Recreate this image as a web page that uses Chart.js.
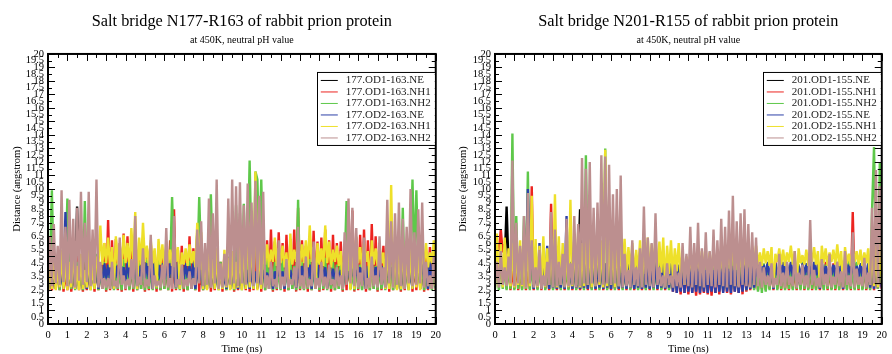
<!DOCTYPE html>
<html>
<head>
<meta charset="utf-8">
<script src="https://cdn.jsdelivr.net/npm/chart.js@4.4.1/dist/chart.umd.min.js"></script>
<style>
  html, body { margin: 0; padding: 0; background: #fff; overflow: hidden; width: 892px; height: 354px; }
  .panel { position: absolute; top: 0; width: 446px; height: 360px; }
</style>
</head>
<body>
<div class="panel" style="left:0"><canvas id="c177" width="446" height="360"></canvas></div>
<div class="panel" style="left:446px"><canvas id="c201" width="446" height="360"></canvas></div>
<script>
// Sampling times of the trajectory (ns), one frame every 0.1 ns
const timeNs = Array.from({ length: 201 }, (_, i) => i / 10);

const xTicks = [0,1,2,3,4,5,6,7,8,9,10,11,12,13,14,15,16,17,18,19,20];
const yTicks = [0,0.5,1,1.5,2,2.5,3,3.5,4,4.5,5,5.5,6,6.5,7,7.5,8,8.5,9,9.5,10,
                10.5,11,11.5,12,12.5,13,13.5,14,14.5,15,15.5,16,16.5,17,17.5,18,18.5,19,19.5,20];

const seriesN177 = ['177.OD1-163.NE','177.OD1-163.NH1','177.OD1-163.NH2','177.OD2-163.NE','177.OD2-163.NH1','177.OD2-163.NH2'];
const seriesN201 = ['201.OD1-155.NE','201.OD1-155.NH1','201.OD1-155.NH2','201.OD2-155.NE','201.OD2-155.NH1','201.OD2-155.NH2'];
const seriesColors = ['#000000','#ec2420','#5ec84a','#2c40a8','#eee02a','#bc8f8f'];

// ---- N177-R163 distances (angstrom) ----
const n177_od1_ne = [
 2.9,4.0,2.8,4.3,3.0,3.8,2.9,4.4,2.8,4.1,
 3.0,4.2,2.9,3.9,2.8,8.7,3.0,4.5,2.9,4.0,
 2.8,4.3,3.0,4.1,2.9,3.8,2.8,4.4,3.0,4.0,
 2.9,4.2,2.8,4.5,3.0,3.9,2.9,4.3,2.8,4.1,
 3.0,4.4,2.9,4.0,2.8,4.2,3.0,4.5,2.9,3.9,
 2.8,4.3,3.0,4.1,2.9,4.4,2.8,4.0,3.0,4.2,
 2.9,3.9,2.8,4.5,3.0,4.2,2.9,4.0,2.8,4.3,
 3.0,4.1,2.9,4.4,2.8,4.0,3.0,6.8,2.9,4.2,
 2.8,4.5,3.0,4.1,2.9,4.3,2.8,3.9,3.0,4.4,
 2.9,4.0,2.8,4.2,3.0,4.5,2.9,4.1,2.8,4.3,
 3.0,4.4,2.9,4.0,2.8,4.6,3.0,4.8,2.9,4.5,
 2.8,4.3,3.0,4.6,2.9,4.5,2.8,4.4,3.0,4.6,
 2.9,4.5,2.8,4.4,3.0,4.6,2.9,4.3,2.8,4.5,
 3.0,4.2,2.9,4.0,2.8,4.4,3.0,4.1,2.9,4.3,
 2.8,4.5,3.0,4.3,2.9,4.6,2.8,4.4,3.0,4.5,
 2.9,4.6,2.8,4.4,3.0,4.2,2.9,4.0,2.8,4.3,
 3.0,4.1,2.9,4.5,2.8,4.6,3.0,4.4,2.9,4.2,
 2.8,4.0,3.0,4.3,2.9,4.1,2.8,4.4,3.0,4.0,
 2.9,4.2,2.8,3.9,3.0,4.3,2.9,4.1,2.8,4.0,
 3.0,4.4,2.9,4.2,2.8,4.0,3.0,4.3,2.9,4.1,
 3.0];
const n177_od1_nh1 = [
 2.4,3.8,2.5,3.5,2.6,4.2,2.5,5.0,2.4,3.9,
 2.5,4.5,2.4,3.8,2.6,5.2,2.5,4.0,2.4,4.6,
 2.5,3.9,2.6,4.4,2.4,5.1,2.5,4.3,2.6,6.0,
 2.4,7.7,2.5,6.2,2.6,6.3,2.5,6.0,2.4,6.7,
 2.5,6.5,2.6,5.8,2.4,6.1,2.5,5.5,2.6,5.9,
 2.4,5.6,2.5,6.0,2.6,5.3,2.4,5.8,2.5,5.4,
 2.6,5.7,2.5,6.2,2.4,8.5,2.5,5.5,2.6,5.8,
 2.4,5.3,2.5,6.5,2.6,5.6,2.5,6.0,2.4,5.4,
 2.5,5.0,2.6,5.5,2.4,4.8,2.5,5.2,2.6,4.6,
 2.4,5.1,2.5,4.7,2.6,5.3,2.4,4.9,2.5,5.0,
 2.6,5.4,2.5,6.0,2.4,5.2,2.5,6.3,2.6,5.6,
 2.4,6.5,2.5,6.2,2.6,7.0,2.4,6.1,2.5,6.8,
 2.6,6.0,2.4,6.6,2.5,6.3,2.6,7.0,2.4,8.6,
 2.5,6.2,2.6,5.8,2.4,6.5,2.5,6.9,2.6,6.1,
 2.4,6.4,2.5,7.0,2.6,6.2,2.4,6.6,2.5,6.0,
 2.6,6.1,2.4,5.9,2.5,6.3,2.6,8.4,2.4,6.4,
 2.5,6.6,2.6,7.0,2.4,6.2,2.5,7.4,2.6,6.5,
 2.4,6.0,2.5,5.8,2.6,6.2,2.4,5.9,2.5,5.6,
 2.6,5.3,2.4,5.8,2.5,5.1,2.6,5.5,2.4,5.0,
 2.5,5.4,2.6,5.9,2.4,5.2,2.5,5.7,2.6,5.3,
 2.5];
const n177_od1_nh2 = [
 2.5,4.0,9.9,3.5,2.6,4.8,2.5,4.1,2.6,4.5,
 9.3,4.2,2.6,5.0,2.5,4.6,2.6,4.3,2.5,9.1,
 2.6,4.7,2.5,4.4,2.6,5.2,2.5,4.0,2.6,4.6,
 2.5,4.3,2.6,4.9,2.5,4.5,2.6,4.2,2.5,4.8,
 2.6,4.4,2.5,4.7,2.6,4.1,2.5,4.6,2.6,4.3,
 2.5,4.8,2.6,4.2,2.5,4.5,2.6,4.9,2.5,4.4,
 2.6,4.6,2.5,4.3,9.4,4.8,2.6,4.1,2.5,4.5,
 2.6,4.2,2.5,4.7,2.6,4.4,2.5,4.0,9.4,4.6,
 2.5,4.3,2.6,4.8,9.6,4.5,2.6,4.1,2.5,4.6,
 2.6,4.4,2.5,5.0,2.6,4.7,2.5,8.8,2.6,8.2,
 2.5,8.9,2.6,5.1,12.1,4.7,2.6,11.3,10.7,4.9,
 10.7,4.5,2.5,4.8,2.6,4.3,2.5,4.6,2.6,4.2,
 2.5,4.7,2.6,4.4,2.5,4.9,2.6,4.3,2.5,9.2,
 2.6,4.6,2.5,4.2,2.6,4.8,2.5,4.4,2.6,4.7,
 2.5,4.3,2.6,4.9,2.5,4.1,2.6,4.6,2.5,4.4,
 2.6,4.8,2.5,4.3,9.1,4.7,2.6,4.2,2.5,4.6,
 2.6,4.4,2.5,4.9,2.6,4.2,2.5,4.7,2.6,4.3,
 2.5,4.6,2.6,4.1,2.5,4.8,2.6,4.4,2.5,4.2,
 2.6,4.7,2.5,8.6,2.6,4.3,2.5,4.9,10.7,4.5,
 9.9,4.4,2.6,4.8,2.5,4.2,2.6,4.6,2.5,4.3,
 2.6];
const n177_od2_ne = [
 2.7,4.2,2.6,3.9,2.8,4.4,2.7,4.0,2.6,8.3,
 2.8,4.1,2.7,4.3,2.6,3.8,2.8,4.5,2.7,4.0,
 2.6,4.4,2.8,4.2,2.7,4.6,2.6,4.3,2.8,4.5,
 3.3,4.4,3.2,4.6,2.6,4.3,3.4,4.5,3.3,4.2,
 3.2,4.6,3.4,4.4,3.3,4.5,2.7,4.3,3.2,4.6,
 3.4,4.5,3.3,4.3,2.6,4.6,3.2,4.4,3.3,4.5,
 3.3,4.3,3.2,4.5,3.4,4.2,2.7,4.6,3.3,4.4,
 3.2,4.5,3.4,4.3,3.3,4.6,2.6,4.2,3.2,4.0,
 2.6,4.1,2.8,3.9,2.7,4.3,2.6,4.0,2.8,4.2,
 2.7,3.8,2.6,4.1,2.8,3.9,2.7,4.2,2.6,4.0,
 2.8,4.3,2.7,4.0,2.6,4.2,2.8,3.9,2.7,4.1,
 2.6,4.0,3.3,3.8,3.2,4.1,2.6,3.9,3.4,4.0,
 3.3,3.9,2.6,4.2,3.2,4.0,3.3,3.8,2.7,4.1,
 3.3,4.3,3.2,4.5,3.4,4.4,2.6,4.6,3.3,4.5,
 3.2,4.4,3.4,4.2,2.7,4.0,3.3,4.1,3.2,3.9,
 3.4,4.0,2.6,4.2,3.3,3.9,3.2,4.1,3.4,4.0,
 3.3,4.2,3.2,4.0,2.6,4.3,3.4,4.1,3.3,4.2,
 3.2,4.0,3.4,4.3,2.7,4.1,3.3,4.2,3.2,4.4,
 2.7,4.5,2.6,4.3,2.8,4.6,2.7,4.2,2.6,4.4,
 3.3,4.6,3.2,4.5,3.4,4.4,2.6,4.6,3.3,4.5,
 2.7];
const n177_od2_nh1 = [
 2.5,4.4,2.6,4.8,2.5,4.2,2.7,5.5,2.6,5.0,
 2.5,4.6,2.7,5.8,2.6,4.3,2.5,5.2,2.6,4.0,
 2.7,5.5,2.5,4.6,2.6,5.0,4.3,7.3,4.4,6.0,
 4.5,6.4,4.2,5.7,2.6,6.5,4.4,5.8,4.3,6.6,
 4.5,6.0,4.2,7.1,4.6,8.3,2.6,6.4,4.4,7.5,
 4.6,5.8,4.3,6.2,4.5,5.6,2.7,6.3,4.4,5.9,
 4.2,6.1,4.5,5.5,4.3,6.4,4.6,5.7,2.6,5.3,
 4.4,5.6,4.3,5.9,4.5,5.4,4.2,7.5,4.6,6.8,
 2.6,5.2,2.5,6.3,2.7,4.8,2.6,5.6,2.5,4.4,
 2.6,5.5,2.7,4.9,2.5,5.4,2.6,4.6,2.7,5.8,
 2.5,6.6,2.6,8.0,2.7,7.2,2.6,11.3,2.5,6.3,
 2.6,5.4,4.4,5.9,4.2,5.5,4.6,6.4,4.3,5.6,
 4.5,5.8,4.2,5.3,2.7,6.7,4.4,5.5,4.6,6.1,
 4.3,5.9,4.5,6.2,4.2,7.3,4.6,5.7,2.6,6.0,
 4.4,5.6,4.3,7.3,4.5,6.1,4.2,5.5,4.6,5.8,
 4.3,5.4,2.6,5.9,4.4,6.0,2.5,7.4,2.6,6.5,
 4.5,5.7,4.2,6.0,4.6,5.4,2.7,6.2,4.4,5.6,
 4.3,5.9,4.5,5.3,2.6,6.4,2.6,10.3,2.7,6.1,
 2.5,5.7,2.6,6.2,2.7,5.4,2.5,6.0,2.6,5.2,
 2.7,5.8,2.5,5.5,4.4,6.0,4.2,5.3,4.5,6.2,
 2.8];
const n177_od2_nh2 = [
 2.7,6.5,2.8,7.4,3.0,5.8,2.9,9.9,3.1,7.2,
 2.8,9.2,3.0,7.8,2.7,8.6,3.2,9.8,2.9,7.5,
 3.1,9.8,2.8,7.0,3.0,10.7,2.7,4.6,2.6,3.4,
 2.7,3.4,2.6,4.6,2.8,3.2,2.7,6.4,2.9,3.6,
 2.6,3.3,2.8,4.8,2.7,8.0,2.8,3.5,2.9,5.6,
 2.7,3.3,2.8,6.6,2.6,3.6,2.8,3.2,2.7,4.4,
 2.8,7.1,2.7,3.4,2.6,8.0,2.7,3.3,2.9,4.4,
 2.7,3.3,2.8,3.9,2.6,3.4,2.9,7.0,3.0,7.6,
 2.8,6.0,2.9,9.3,2.7,8.2,3.0,10.7,2.6,4.5,
 2.7,5.2,2.8,9.3,2.9,10.7,3.0,10.2,2.8,10.5,
 3.0,8.8,2.9,10.4,3.1,9.0,2.8,10.6,3.0,9.5,
 2.9,9.8,2.7,3.6,2.6,4.6,2.8,3.3,2.7,6.2,
 2.6,3.5,2.8,4.8,2.7,3.3,2.9,4.2,2.7,7.2,
 2.8,3.6,2.6,5.0,2.7,3.3,2.8,6.1,2.6,3.4,
 2.7,4.6,2.8,3.5,2.6,4.4,2.9,3.3,2.7,4.2,
 2.8,3.6,2.6,6.8,2.9,9.3,3.0,8.6,2.8,7.1,
 2.7,3.8,2.8,6.4,2.6,3.4,2.7,5.0,2.8,3.6,
 2.7,6.5,2.9,4.2,2.7,9.2,3.0,7.6,2.7,8.2,
 2.9,9.0,2.8,7.8,2.6,7.2,3.0,10.0,2.8,6.8,
 2.9,8.5,3.0,9.0,2.7,4.6,2.8,3.6,2.6,5.0,
 3.0];

// ---- N201-R155 distances (angstrom) ----
const n201_od1_ne = [
 3.5,4.4,3.6,4.2,3.4,4.5,8.7,4.3,3.5,4.0,
 3.4,4.2,3.6,4.1,3.5,4.4,3.3,4.0,3.6,4.3,
 3.0,4.1,2.9,4.3,3.0,4.0,2.9,4.2,3.0,4.4,
 2.9,4.2,3.0,4.0,2.9,4.3,3.0,4.1,2.9,4.4,
 3.0,4.3,2.9,4.1,8.5,4.2,3.0,4.4,2.9,4.0,
 3.0,4.2,2.9,4.4,3.0,4.1,2.9,4.3,3.0,4.0,
 2.9,4.4,3.0,4.2,2.9,4.0,3.0,4.3,2.9,4.1,
 3.0,4.0,2.9,4.3,3.0,4.2,2.9,4.4,3.0,4.1,
 2.9,4.3,3.0,4.1,2.9,4.4,3.0,4.0,2.9,4.2,
 3.0,4.2,2.9,4.0,3.0,4.3,2.9,4.1,3.0,4.4,
 2.9,4.1,3.0,4.3,3.4,4.0,3.5,4.2,3.4,4.1,
 3.4,4.0,3.5,4.1,3.4,4.3,3.5,4.0,3.4,4.2,
 3.5,4.1,3.4,3.9,3.5,4.2,3.4,4.0,3.5,4.1,
 3.0,4.2,2.9,4.0,3.0,4.3,2.9,4.1,3.0,4.2,
 2.9,4.0,3.0,4.3,2.9,4.1,3.0,4.2,2.9,4.4,
 3.0,4.1,2.9,4.3,3.0,4.0,2.9,4.2,3.0,4.1,
 2.9,4.3,3.0,4.1,2.9,4.4,3.0,4.0,2.9,4.2,
 3.0,4.2,2.9,4.0,3.0,4.3,2.9,4.1,3.0,4.4,
 2.9,4.1,3.0,4.3,2.9,4.0,3.0,4.2,2.9,4.1,
 3.0,4.3,2.9,4.1,3.0,4.2,2.9,4.0,3.0,4.3,
 3.0];
const n201_od1_nh1 = [
 5.2,6.0,5.4,7.0,5.3,5.9,2.6,4.8,2.5,4.2,
 2.6,4.5,2.5,4.0,2.6,4.7,2.5,4.3,2.6,10.2,
 2.5,4.4,2.6,4.9,2.5,4.6,2.6,4.2,2.5,8.9,
 2.6,4.8,2.5,4.4,2.6,4.7,2.5,4.5,2.6,4.3,
 2.5,4.6,2.6,4.9,2.5,4.4,2.6,4.8,2.5,4.5,
 2.6,4.7,2.5,4.3,2.6,4.8,2.5,4.5,2.6,4.4,
 2.5,4.6,2.6,4.2,2.5,4.7,2.6,4.4,2.5,4.8,
 2.6,4.3,2.5,4.6,2.6,4.5,2.5,4.2,2.6,4.7,
 2.5,4.4,2.6,4.8,2.5,4.3,2.6,4.6,2.5,4.5,
 2.6,4.2,2.4,4.5,2.3,4.0,2.2,4.3,2.3,3.9,
 2.2,4.1,2.3,3.8,2.1,4.2,2.2,3.9,2.3,4.0,
 2.2,3.8,2.1,4.1,2.3,4.0,2.2,4.2,2.4,3.9,
 2.3,4.1,2.2,4.3,2.4,4.0,2.3,4.2,2.2,4.4,
 2.4,4.0,2.5,4.3,2.6,4.1,2.5,4.2,2.6,4.4,
 2.5,4.5,2.6,4.2,2.5,4.6,2.6,4.3,2.5,4.4,
 2.6,4.2,2.5,4.5,2.6,4.1,2.5,4.4,2.6,4.6,
 2.5,4.3,2.6,4.7,2.5,4.2,2.6,4.5,2.5,4.4,
 2.6,4.6,2.5,4.2,2.6,4.5,2.5,4.3,2.6,4.7,
 2.5,4.4,2.6,4.8,2.5,8.3,2.6,4.5,2.5,4.3,
 2.6,4.6,2.5,4.2,2.6,4.5,2.5,4.7,2.6,4.4,
 2.6];
const n201_od1_nh2 = [
 2.6,4.5,2.5,4.8,2.6,4.3,2.5,4.6,2.6,14.1,
 2.5,8.0,2.6,4.7,2.5,8.0,2.6,11.3,2.5,4.5,
 2.6,4.8,2.5,4.4,2.6,4.9,2.5,4.3,2.6,4.7,
 2.5,4.5,2.6,4.8,2.5,4.2,2.6,4.6,2.5,4.4,
 2.6,4.9,2.5,4.3,2.6,4.7,2.5,12.5,2.6,4.6,
 2.5,4.4,2.6,4.8,2.5,4.5,2.6,13.0,2.5,4.3,
 2.6,4.7,2.5,4.4,2.6,4.9,2.5,4.2,2.6,4.6,
 2.5,4.3,2.6,4.8,2.5,4.5,2.6,4.4,2.5,4.7,
 2.6,4.5,2.5,4.2,2.6,4.6,2.5,4.3,2.6,4.8,
 2.5,4.4,2.6,4.7,2.5,4.3,2.6,4.5,2.5,4.2,
 2.6,4.6,2.5,4.3,2.6,4.8,2.5,4.4,2.6,4.5,
 2.5,4.7,2.6,4.2,2.5,4.5,2.6,4.3,2.5,4.6,
 2.6,4.4,2.5,4.8,2.6,4.3,2.5,7.0,2.6,4.5,
 2.5,4.6,2.6,4.2,2.5,4.7,2.4,4.4,2.3,4.5,
 2.4,4.3,2.5,4.6,2.6,4.4,2.5,4.7,2.6,4.2,
 2.5,4.5,2.6,4.3,2.5,4.8,2.6,4.4,2.5,4.6,
 2.6,4.2,2.5,4.7,2.6,4.5,2.5,4.3,2.6,4.8,
 2.5,4.4,2.6,4.6,2.5,4.2,2.6,4.5,2.5,4.7,
 2.6,4.3,2.5,4.8,2.6,4.4,2.5,4.6,2.6,4.3,
 2.5,4.7,2.6,4.5,2.5,8.5,13.1,4.9,2.6,12.0,
 4.5];
const n201_od2_ne = [
 3.8,4.8,3.7,5.0,3.9,4.6,3.8,4.9,3.7,4.5,
 3.8,6.0,3.6,4.7,3.9,5.2,3.7,10.0,3.8,4.6,
 2.6,4.5,2.7,6.0,2.6,4.4,2.7,5.8,2.6,4.6,
 2.7,4.3,2.6,4.5,2.7,4.4,2.6,8.0,2.7,4.6,
 2.6,4.5,2.7,4.3,2.6,4.6,2.7,4.4,2.6,4.5,
 2.7,4.4,2.6,4.6,2.7,4.3,2.6,4.5,2.7,4.4,
 2.6,4.6,2.7,4.4,2.6,4.5,2.7,4.3,2.6,4.6,
 2.7,4.3,2.6,4.5,2.7,4.4,2.6,4.6,2.7,4.5,
 2.6,4.4,2.7,4.6,2.6,4.3,2.7,4.5,2.6,4.4,
 2.7,4.5,2.4,4.3,2.3,4.4,2.4,4.2,2.3,4.5,
 2.4,4.3,2.3,4.1,2.4,4.4,2.3,4.2,2.4,4.0,
 2.3,4.2,2.4,4.0,2.3,4.3,2.4,4.1,2.3,4.2,
 2.4,4.1,2.3,4.3,2.4,4.0,2.3,4.2,2.4,4.4,
 2.5,4.2,2.6,4.4,2.7,4.3,3.5,4.5,3.4,4.4,
 3.5,4.6,3.4,4.4,2.6,4.5,3.6,4.3,3.5,4.6,
 3.4,4.4,3.6,4.6,3.5,4.5,2.7,4.3,3.4,4.5,
 3.6,4.5,3.4,4.3,3.5,4.6,3.6,4.4,2.6,4.5,
 3.5,4.3,3.4,4.5,3.6,4.4,3.5,4.6,3.4,4.4,
 2.6,4.6,3.5,4.4,3.6,4.5,3.4,4.3,3.5,4.5,
 3.4,4.4,3.6,4.5,2.7,4.3,2.6,4.6,2.7,4.5,
 2.7];
const n201_od2_nh1 = [
 2.7,6.7,2.8,5.9,2.7,6.4,2.9,5.6,2.8,6.0,
 2.7,5.5,2.9,6.2,2.8,5.3,2.7,6.0,2.8,9.5,
 2.9,6.3,2.7,5.8,2.8,6.5,2.7,5.6,2.9,6.1,
 2.8,9.6,2.7,6.5,2.9,6.0,2.8,5.7,2.7,9.2,
 2.8,6.4,2.9,6.8,2.7,6.0,2.8,7.2,2.9,6.5,
 2.7,6.6,2.8,7.0,2.9,6.2,2.7,12.9,2.8,6.8,
 2.9,6.1,2.7,6.6,2.8,5.9,3.8,6.3,3.6,5.7,
 3.9,6.0,3.5,5.5,3.8,6.2,2.8,5.8,3.7,6.4,
 3.6,5.9,3.9,6.5,3.5,6.1,3.8,6.4,2.8,5.8,
 3.7,6.2,3.5,5.6,3.9,6.0,3.6,5.3,2.9,5.0,
 4.0,4.6,3.8,5.2,4.1,4.8,3.9,5.4,4.0,4.9,
 3.8,5.3,4.1,4.7,3.9,5.5,4.0,5.0,3.8,5.8,
 4.1,5.4,3.9,6.0,4.0,5.6,2.8,5.9,4.1,5.2,
 3.9,5.7,4.0,5.5,4.2,5.8,4.4,5.3,4.3,5.6,
 4.5,5.4,4.3,5.7,2.8,5.2,4.6,5.6,4.4,5.5,
 4.3,5.3,4.6,5.8,4.4,5.4,2.7,5.6,4.5,5.1,
 4.4,5.5,4.3,5.2,4.6,5.7,4.4,5.4,2.8,5.8,
 4.5,5.6,4.3,5.3,4.6,5.5,4.4,5.9,4.3,5.4,
 2.8,5.7,4.5,5.2,4.3,5.6,4.6,5.4,4.4,5.5,
 4.3,5.3,4.5,5.6,2.9,6.0,2.8,5.8,2.7,6.2,
 3.0];
const n201_od2_nh2 = [
 2.8,4.6,2.7,5.4,2.9,4.2,2.8,5.0,3.0,12.1,
 2.8,7.5,3.0,5.8,2.9,8.0,2.7,9.7,3.0,6.2,
 2.7,4.2,2.8,5.5,2.6,3.6,2.8,4.6,2.9,8.3,
 2.7,7.0,2.8,4.6,2.9,5.2,2.7,7.8,2.8,4.5,
 2.9,8.0,2.7,7.4,2.8,12.3,3.0,11.5,2.9,12.0,
 3.0,8.6,2.8,9.0,3.1,12.5,2.9,12.4,3.0,11.8,
 2.9,9.6,3.0,10.0,2.8,11.0,2.7,5.2,2.8,4.0,
 2.7,6.2,2.9,4.2,2.8,5.6,2.7,8.7,2.9,6.4,
 2.8,6.0,2.7,8.2,2.9,4.2,2.8,3.6,2.7,4.5,
 2.9,3.6,2.7,4.4,2.8,3.8,2.7,6.0,2.9,5.2,
 2.8,7.2,2.7,6.0,2.9,7.5,2.8,5.6,2.7,6.8,
 2.9,5.4,2.8,7.0,2.7,6.2,2.9,7.8,2.8,7.2,
 2.7,8.4,2.9,9.5,2.8,7.6,2.7,8.2,2.9,8.5,
 2.8,7.4,2.7,6.8,2.9,6.4,2.8,4.6,2.7,4.2,
 2.9,3.6,2.8,4.5,2.7,3.4,2.9,5.2,2.8,3.8,
 2.7,4.6,2.9,3.5,2.8,5.4,2.7,3.8,2.9,4.4,
 2.8,3.6,2.7,7.7,2.9,4.0,2.8,3.4,2.7,4.8,
 2.9,3.7,2.8,5.2,2.7,3.5,2.9,4.6,2.8,3.9,
 2.7,5.4,2.9,3.6,2.8,6.8,2.7,4.1,2.9,3.5,
 2.8,4.9,2.7,3.8,2.9,8.6,3.0,11.4,2.9,10.2,
 4.6];

const SERIF = '"Liberation Serif", "Times New Roman", serif';

// Inward-pointing ticks on all four sides plus the heavy frame
const frameTicks = {
  id: 'frameTicks',
  afterDatasetsDraw(chart) {
    const { ctx, chartArea: a, scales: { x, y } } = chart;
    ctx.save();
    ctx.strokeStyle = '#000';
    ctx.lineWidth = 1;
    ctx.beginPath();
    yTicks.forEach(v => {
      const py = Math.round(y.getPixelForValue(v)) + 0.5;
      const len = Number.isInteger(v) ? 7 : 4;
      ctx.moveTo(a.left, py); ctx.lineTo(a.left + len, py);
      ctx.moveTo(a.right, py); ctx.lineTo(a.right - len, py);
    });
    for (let v = 0; v <= 20; v += 0.5) {
      const px = Math.round(x.getPixelForValue(v)) + 0.5;
      const len = Number.isInteger(v) ? 7 : 4;
      ctx.moveTo(px, a.bottom); ctx.lineTo(px, a.bottom - len);
      ctx.moveTo(px, a.top); ctx.lineTo(px, a.top + len);
    }
    ctx.stroke();
    ctx.lineWidth = 2;
    ctx.strokeRect(a.left, a.top, a.right - a.left, a.bottom - a.top);
    ctx.restore();
  }
};

// Boxed legend in the upper right corner of the plot
const boxLegend = {
  id: 'boxLegend',
  afterDatasetsDraw(chart) {
    const { ctx, chartArea: a } = chart;
    const ds = chart.data.datasets;
    ctx.save();
    ctx.font = '11px ' + SERIF;
    const maxW = Math.max(...ds.map(d => ctx.measureText(d.label).width));
    const w = 29 + maxW + 4;
    const right = a.right - 1;
    const left = right - w;
    const top = a.top + 18;
    const h = 73;
    ctx.fillStyle = '#fff';
    ctx.fillRect(left, top, w, h);
    ctx.strokeStyle = '#000';
    ctx.lineWidth = 1;
    ctx.strokeRect(Math.round(left) + 0.5, top + 0.5, Math.round(w), h);
    ctx.textBaseline = 'middle';
    ds.forEach((d, i) => {
      const ry = top + 8.5 + i * 11.5;
      ctx.strokeStyle = d.borderColor;
      ctx.beginPath();
      ctx.moveTo(left + 4, ry); ctx.lineTo(left + 21, ry);
      ctx.stroke();
      ctx.fillStyle = '#222';
      ctx.fillText(d.label, left + 29, ry);
    });
    ctx.restore();
  }
};

function buildChart(id, title, names, series, plotLeft, plotRight) {
  const datasets = series.map((vals, i) => ({
    label: names[i],
    data: vals.map((v, k) => ({ x: timeNs[k], y: v })),
    borderColor: seriesColors[i],
    borderWidth: 2.4,
    borderJoinStyle: 'bevel',
    pointRadius: 0,
    tension: 0,
    order: 6 - i
  }));
  return new Chart(document.getElementById(id), {
    type: 'line',
    data: { datasets },
    plugins: [frameTicks, boxLegend],
    options: {
      responsive: false,
      animation: false,
      devicePixelRatio: 1,
      layout: { padding: { left: 0, right: 446 - plotRight, top: 0, bottom: 0 } },
      plugins: {
        legend: { display: false },
        tooltip: { enabled: false },
        title: {
          display: true, text: title, fullSize: false, color: '#000',
          font: { family: SERIF, size: 16.3, weight: 'normal' },
          padding: { top: 11.5, bottom: 0 }
        },
        subtitle: {
          display: true, text: 'at 450K, neutral pH value', fullSize: false, color: '#000',
          font: { family: SERIF, size: 10, weight: 'normal' },
          padding: { top: 3, bottom: 7.9 }
        }
      },
      scales: {
        x: {
          type: 'linear', min: 0, max: 20,
          afterBuildTicks: s => { s.ticks = xTicks.map(v => ({ value: v })); },
          afterFit: s => { s.height = 36; },
          grid: { display: false, drawTicks: false },
          border: { display: false },
          ticks: {
            autoSkip: false, maxRotation: 0, padding: 5, color: '#000',
            font: { family: SERIF, size: 10.5 },
            callback: v => String(v)
          },
          title: {
            display: true, text: 'Time (ns)', color: '#000',
            font: { family: SERIF, size: 10.5 },
            padding: { top: 0, bottom: 4 }
          }
        },
        y: {
          type: 'linear', min: 0, max: 20,
          afterBuildTicks: s => { s.ticks = yTicks.map(v => ({ value: v })); },
          afterFit: s => { s.width = plotLeft; },
          grid: { display: false, drawTicks: false },
          border: { display: false },
          ticks: {
            autoSkip: false, padding: 4, color: '#000',
            font: { family: SERIF, size: 10.5 },
            callback: v => String(v)
          },
          title: {
            display: true, text: 'Distance (angstrom)', color: '#000',
            font: { family: SERIF, size: 10.5 },
            padding: { top: 11, bottom: 0 }
          }
        }
      }
    }
  });
}

buildChart('c177', 'Salt bridge N177-R163 of rabbit prion protein', seriesN177,
  [n177_od1_ne, n177_od1_nh1, n177_od1_nh2, n177_od2_ne, n177_od2_nh1, n177_od2_nh2], 48, 436);
buildChart('c201', 'Salt bridge N201-R155 of rabbit prion protein', seriesN201,
  [n201_od1_ne, n201_od1_nh1, n201_od1_nh2, n201_od2_ne, n201_od2_nh1, n201_od2_nh2], 49, 438);
</script>
</body>
</html>
